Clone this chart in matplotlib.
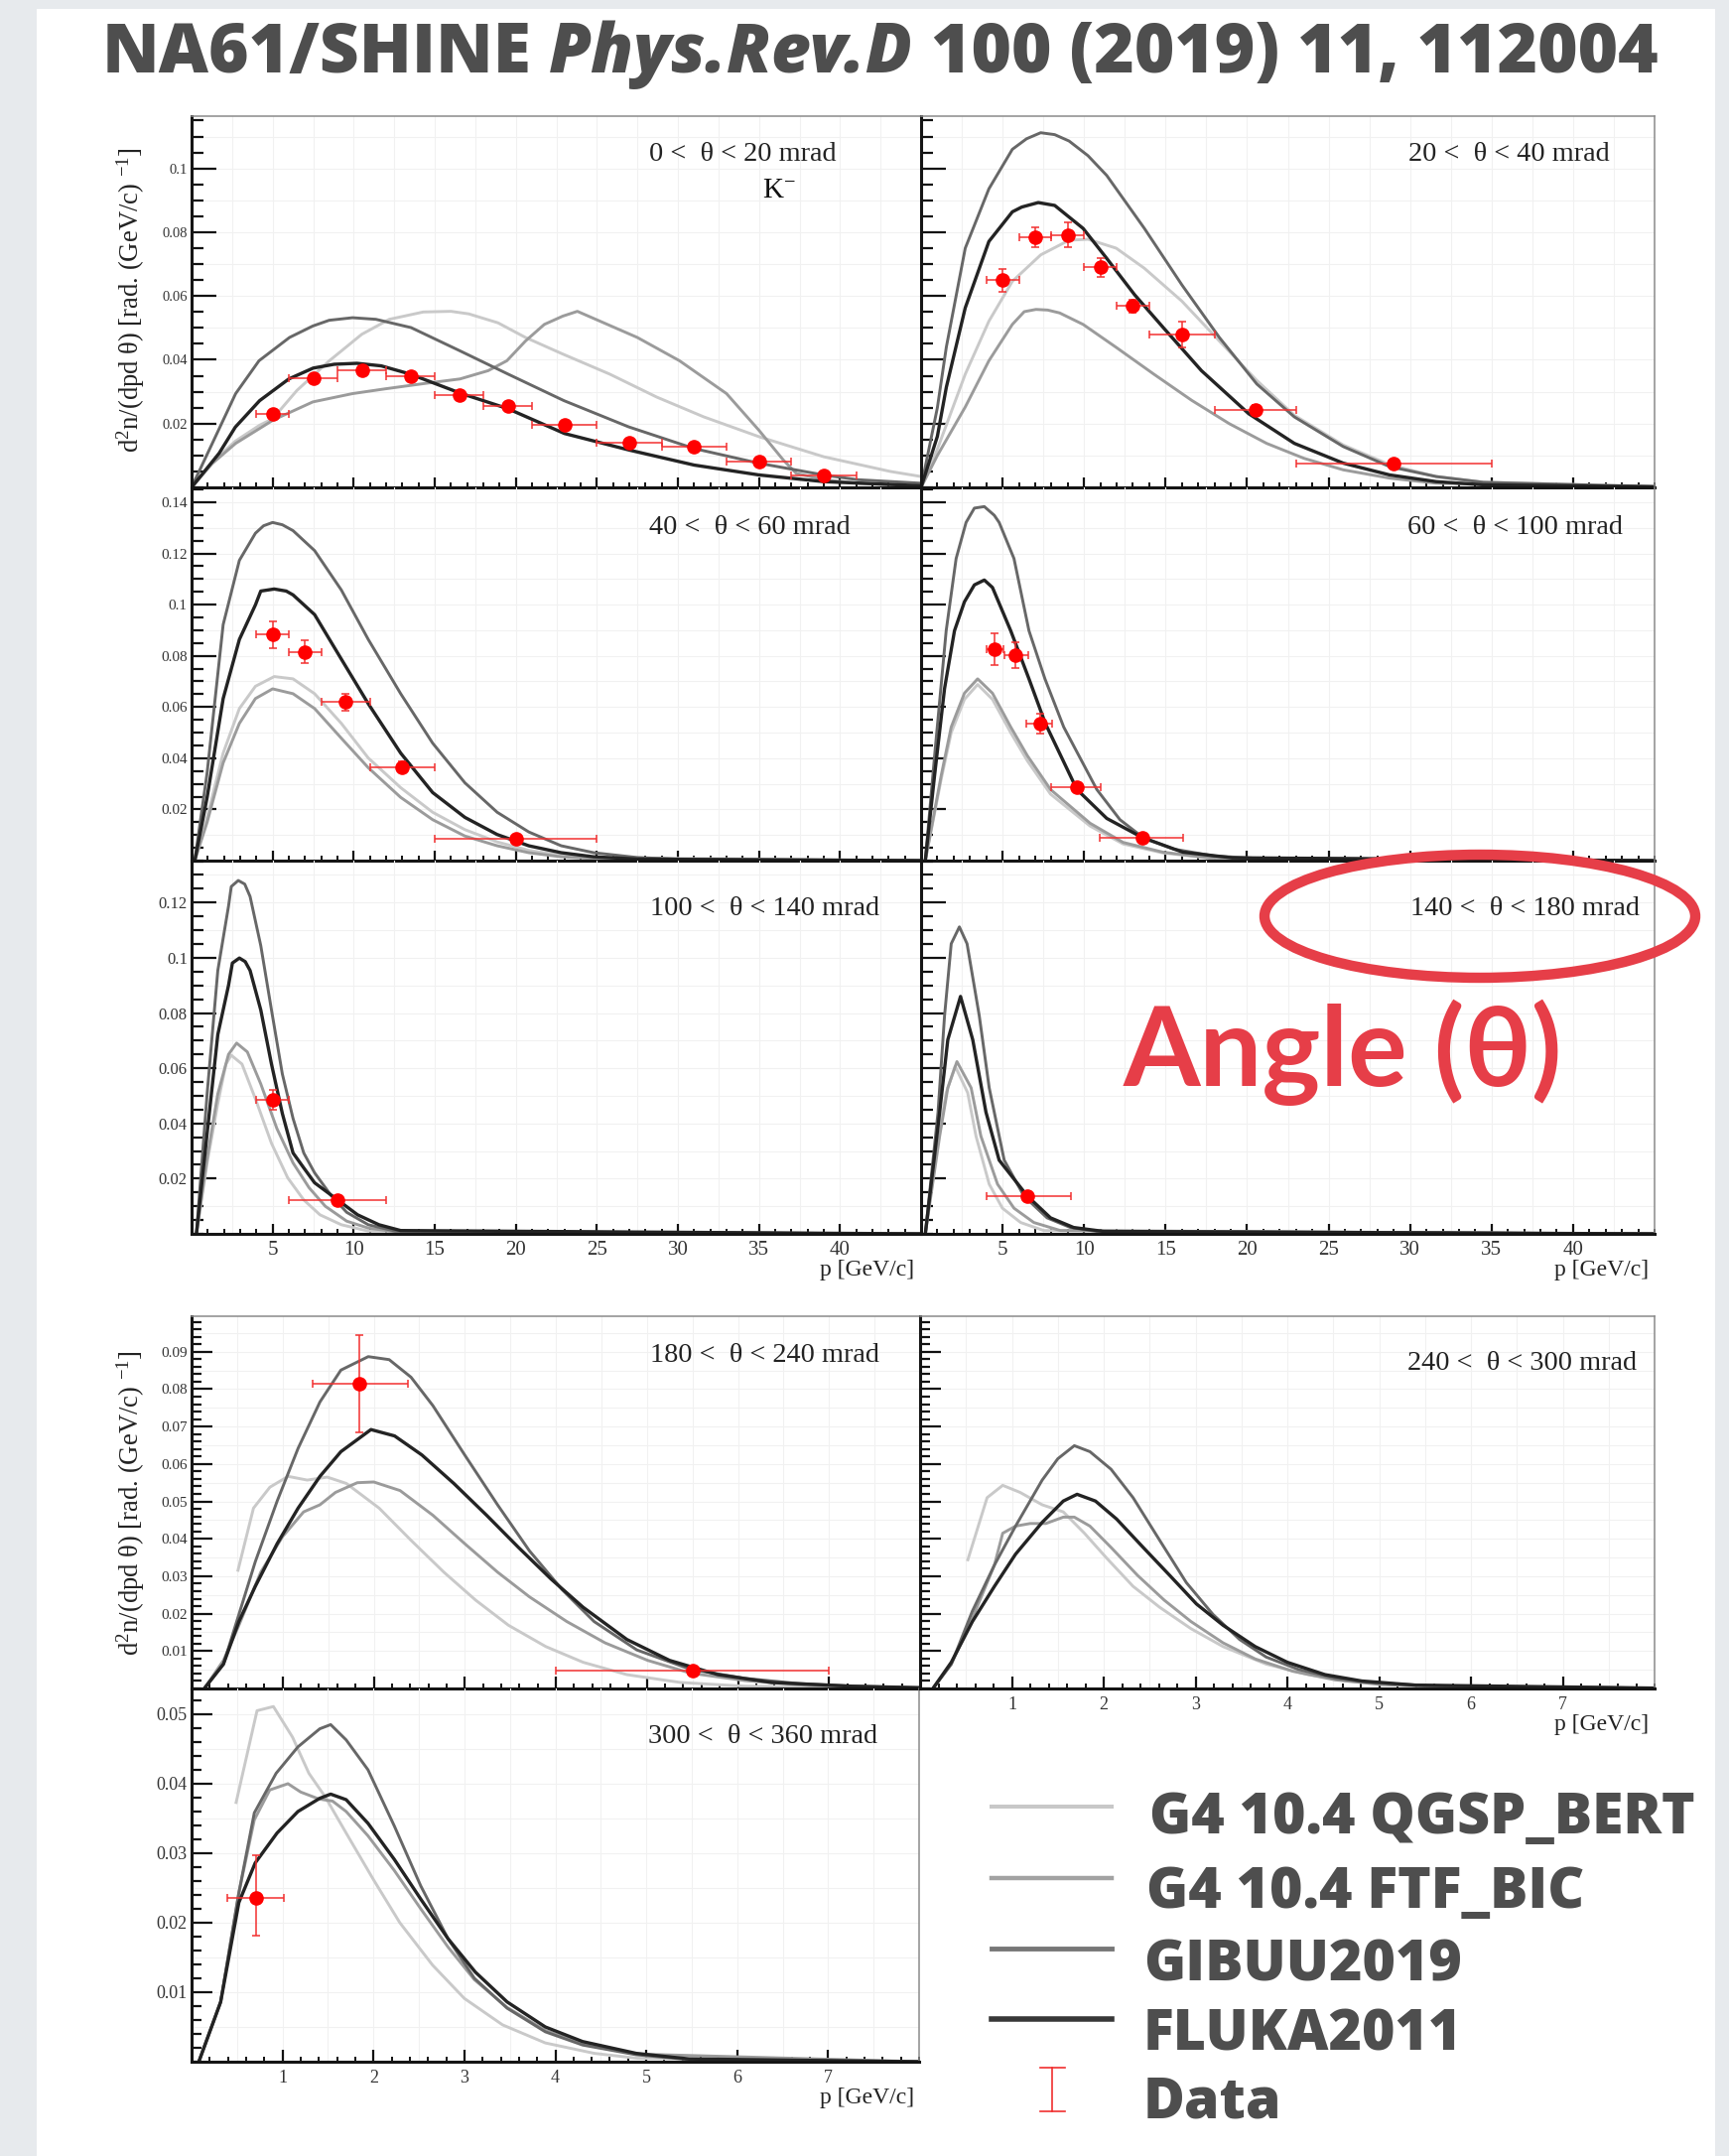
import matplotlib
matplotlib.use("Agg")
import numpy as np
import matplotlib.pyplot as plt
from matplotlib.patches import Ellipse, Rectangle
from matplotlib.lines import Line2D
from matplotlib.ticker import MultipleLocator

# ---------------- values ----------------
# 0 < theta < 20 mrad
p_t0_qgsp = [0, 1.3, 2.7, 4.2, 5.0, 6.5, 8.5, 10.5, 12.2, 14.3, 16.0, 17.1, 18.9, 20.6, 22.9, 25.8, 28.7, 31.6, 35.0, 39.0, 43.1, 45.0]
y_t0_qgsp = [0, 0.008, 0.0145, 0.0195, 0.0215, 0.0304, 0.0397, 0.048, 0.0527, 0.055, 0.0552, 0.0544, 0.0516, 0.047, 0.0418, 0.0355, 0.0283, 0.0221, 0.0159, 0.0096, 0.005, 0.0034]
p_t0_ftf = [0, 1.28, 2.72, 5.03, 7.48, 9.93, 11.95, 14.26, 16.56, 18.3, 19.45, 20.6, 21.76, 22.9, 23.8, 25.2, 27.5, 30.1, 33.0, 35.0, 36.5, 37.3, 39.0, 41.1, 45.0]
y_t0_ftf = [0, 0.0075, 0.0138, 0.0211, 0.0268, 0.0294, 0.0309, 0.0325, 0.034, 0.0366, 0.0397, 0.0459, 0.0511, 0.0537, 0.0552, 0.0521, 0.047, 0.0397, 0.0294, 0.0179, 0.0086, 0.0044, 0.0024, 0.0013, 0.0005]
p_t0_gibuu = [0, 1.28, 2.72, 4.16, 6.04, 7.48, 8.49, 9.93, 11.37, 13.54, 16.56, 19.53, 22.97, 26.95, 30.99, 34.97, 38.98, 41.1, 45.0]
y_t0_gibuu = [0, 0.0138, 0.0294, 0.0397, 0.047, 0.0506, 0.0524, 0.0532, 0.0527, 0.0501, 0.0428, 0.0355, 0.0272, 0.019, 0.0122, 0.0076, 0.0039, 0.0024, 0.0013]
p_t0_fluka = [0, 1.7, 2.7, 4.2, 6.0, 7.5, 8.8, 10.2, 11.7, 13.5, 16.6, 19.5, 23.0, 27.0, 31.0, 35.0, 39.0, 45.0]
y_t0_fluka = [0, 0.0107, 0.0189, 0.0272, 0.034, 0.0374, 0.0386, 0.0389, 0.0381, 0.0355, 0.0295, 0.0247, 0.0169, 0.0117, 0.007, 0.0039, 0.0018, 0.0005]
p_t0_data = [5.0, 7.5, 10.5, 13.5, 16.5, 19.5, 23.0, 27.0, 31.0, 35.0, 39.0]
lo_t0_data = [4, 6, 9, 12, 15, 18, 21, 25, 29, 33, 37]
hi_t0_data = [6, 9, 12, 15, 18, 21, 25, 29, 33, 37, 41]
y_t0_data = [0.0229, 0.0343, 0.0368, 0.0348, 0.0291, 0.0255, 0.0195, 0.0141, 0.0128, 0.0081, 0.0036]
e_t0_data = [0.0012, 0.0013, 0.0013, 0.0012, 0.0011, 0.001, 0.0009, 0.0009, 0.0008, 0.0007, 0.0006]

# 20 < theta < 40 mrad
p_t20_qgsp = [0, 1.0, 2.71, 4.16, 5.6, 7.34, 9.08, 10.24, 11.97, 13.7, 16.0, 18.3, 20.6, 22.9, 25.9, 28.75, 31.6, 34.5, 45.0]
y_t20_qgsp = [0, 0.012, 0.0355, 0.0521, 0.0646, 0.0729, 0.0775, 0.0778, 0.075, 0.0687, 0.0584, 0.0459, 0.0335, 0.0226, 0.0133, 0.0071, 0.0034, 0.0016, 0.0003]
p_t20_ftf = [0, 1.0, 2.71, 4.16, 5.6, 6.33, 7.05, 7.77, 8.5, 9.94, 11.97, 14.28, 16.6, 18.9, 21.2, 23.5, 25.9, 28.75, 31.6, 45.0]
y_t20_ftf = [0, 0.010, 0.0252, 0.0397, 0.0511, 0.0551, 0.0558, 0.0556, 0.0547, 0.0511, 0.0439, 0.0355, 0.0273, 0.020, 0.0138, 0.0091, 0.0055, 0.0029, 0.0013, 0.0002]
p_t20_gibuu = [0, 1.0, 1.55, 2.71, 4.16, 5.6, 6.47, 7.34, 8.2, 9.08, 10.24, 11.39, 13.7, 16.0, 18.3, 20.6, 22.9, 25.9, 28.75, 31.6, 34.5, 45.0]
y_t20_gibuu = [0, 0.025, 0.044, 0.075, 0.0936, 0.106, 0.1093, 0.1112, 0.1106, 0.1086, 0.104, 0.0978, 0.0812, 0.0635, 0.047, 0.0324, 0.0221, 0.0128, 0.0065, 0.0034, 0.0016, 0.0002]
p_t20_fluka = [0, 1.0, 1.55, 2.71, 4.16, 5.6, 6.18, 7.19, 8.2, 9.94, 11.39, 13.1, 14.86, 17.2, 20.1, 22.9, 25.9, 28.75, 31.6, 34.5, 45.0]
y_t20_fluka = [0, 0.016, 0.0314, 0.0563, 0.0771, 0.0864, 0.0879, 0.0893, 0.0884, 0.0812, 0.0718, 0.0604, 0.0501, 0.0366, 0.0231, 0.0138, 0.0076, 0.0039, 0.0018, 0.0008, 0.0002]
p_t20_data = [5.0, 7.0, 9.0, 11.0, 13.0, 16.0, 20.5, 29.0]
lo_t20_data = [4, 6, 8, 10, 12, 14, 18, 23]
hi_t20_data = [6, 8, 10, 12, 14, 18, 23, 35]
y_t20_data = [0.0649, 0.0784, 0.0791, 0.069, 0.0568, 0.048, 0.0244, 0.0076]
e_t20_data = [0.0036, 0.0031, 0.0039, 0.0029, 0.002, 0.0041, 0.0015, 0.001]

# 40 < theta < 60 mrad
p_t40_qgsp = [0.2, 0.96, 1.95, 2.95, 3.94, 5.1, 6.26, 7.59, 9.24, 10.9, 12.9, 14.87, 16.86, 18.85, 20.8, 22.8, 24.8, 45.0]
y_t40_qgsp = [0, 0.017, 0.042, 0.0594, 0.0681, 0.0719, 0.071, 0.0652, 0.0536, 0.0401, 0.0285, 0.0189, 0.0121, 0.0073, 0.004, 0.0021, 0.0012, 0]
p_t40_ftf = [0.2, 0.96, 1.95, 2.95, 3.94, 5.0, 6.26, 7.59, 9.24, 10.9, 12.9, 14.87, 16.86, 18.85, 20.8, 22.8, 24.8, 45.0]
y_t40_ftf = [0, 0.015, 0.0382, 0.0536, 0.0633, 0.0671, 0.0652, 0.0594, 0.0478, 0.0363, 0.0247, 0.016, 0.0096, 0.0058, 0.0031, 0.0015, 0.0008, 0]
p_t40_gibuu = [0.2, 0.96, 1.95, 2.95, 3.94, 4.44, 5.0, 5.6, 6.26, 7.59, 9.24, 10.9, 12.9, 14.87, 16.86, 18.85, 20.8, 22.8, 24.8, 27.5, 30.8, 45.0]
y_t40_gibuu = [0, 0.0343, 0.0922, 0.1173, 0.1279, 0.1308, 0.1321, 0.1312, 0.1289, 0.1211, 0.1057, 0.0864, 0.0652, 0.0459, 0.0304, 0.0189, 0.0112, 0.0058, 0.0031, 0.0012, 0.0004, 0]
p_t40_fluka = [0.2, 0.96, 1.95, 2.95, 3.94, 4.27, 5.1, 5.84, 6.26, 7.59, 9.24, 10.9, 12.9, 14.87, 16.86, 18.85, 20.8, 22.8, 24.8, 27.5, 45.0]
y_t40_fluka = [0, 0.0247, 0.0633, 0.0864, 0.0999, 0.1053, 0.1061, 0.1053, 0.1038, 0.0961, 0.0787, 0.0613, 0.042, 0.0266, 0.0169, 0.0102, 0.0058, 0.0031, 0.0015, 0.0006, 0]
p_t40_data = [5.0, 7.0, 9.5, 13.0, 20.0]
lo_t40_data = [4, 6, 8, 11, 15]
hi_t40_data = [6, 8, 11, 15, 25]
y_t40_data = [0.0883, 0.0816, 0.0619, 0.0366, 0.0087]
e_t40_data = [0.0053, 0.0046, 0.0033, 0.002, 0.0012]

# 60 < theta < 100 mrad
p_t60_qgsp = [0.26, 1.24, 1.85, 2.66, 3.47, 4.38, 5.5, 6.52, 7.94, 10.37, 12.4, 14.84, 17.7, 45.0]
y_t60_qgsp = [0, 0.032, 0.050, 0.063, 0.0688, 0.063, 0.050, 0.039, 0.026, 0.0135, 0.0065, 0.003, 0.001, 0]
p_t60_ftf = [0.26, 1.24, 1.85, 2.66, 3.47, 4.38, 5.5, 6.52, 7.94, 10.37, 12.4, 14.84, 17.7, 45.0]
y_t60_ftf = [0, 0.0334, 0.0522, 0.0654, 0.071, 0.0654, 0.0522, 0.041, 0.0278, 0.0146, 0.0071, 0.0033, 0.0011, 0]
p_t60_gibuu = [0.26, 0.83, 1.54, 2.15, 2.76, 3.27, 3.88, 4.49, 4.79, 5.7, 6.62, 7.6, 8.75, 10.78, 12.2, 13.62, 15.5, 18.0, 22.0, 45.0]
y_t60_gibuu = [0, 0.041, 0.0898, 0.118, 0.1321, 0.1377, 0.1383, 0.1349, 0.1321, 0.118, 0.0898, 0.071, 0.0522, 0.0278, 0.016, 0.009, 0.0045, 0.0018, 0.0004, 0]
p_t60_fluka = [0.26, 0.83, 1.44, 2.05, 2.66, 3.27, 3.88, 4.38, 5.5, 6.62, 7.63, 9.56, 11.39, 13.58, 16.06, 19.1, 45.0]
y_t60_fluka = [0, 0.0334, 0.0672, 0.0898, 0.1011, 0.1077, 0.1096, 0.1067, 0.0898, 0.071, 0.0535, 0.0278, 0.0165, 0.009, 0.0033, 0.0011, 0]
p_t60_data = [4.53, 5.81, 7.33, 9.56, 13.58]
lo_t60_data = [4.02, 5.14, 6.48, 7.98, 10.98]
hi_t60_data = [5.05, 6.58, 8.04, 11.04, 16.06]
y_t60_data = [0.0827, 0.0804, 0.0535, 0.0287, 0.009]
e_t60_data = [0.0062, 0.005, 0.004, 0.0015, 0.0012]

# 100 < theta < 140 mrad
p_t100_qgsp = [0.3, 0.96, 1.62, 2.12, 2.45, 3.11, 3.94, 4.93, 5.93, 6.92, 7.92, 9.24, 10.9, 45.0]
y_t100_qgsp = [0, 0.0257, 0.0472, 0.0615, 0.0647, 0.0615, 0.0489, 0.0328, 0.0203, 0.0123, 0.0069, 0.0033, 0.001, 0]
p_t100_ftf = [0.3, 0.96, 1.62, 2.28, 2.78, 3.44, 4.27, 5.26, 6.26, 7.25, 8.25, 9.57, 10.9, 12.9, 45.0]
y_t100_ftf = [0, 0.0275, 0.0507, 0.065, 0.0691, 0.0659, 0.0543, 0.0382, 0.0257, 0.0167, 0.01, 0.0046, 0.0021, 0.0005, 0]
p_t100_gibuu = [0.3, 0.96, 1.62, 2.28, 2.45, 2.88, 3.28, 3.61, 4.27, 4.93, 5.6, 6.26, 6.92, 7.59, 8.58, 9.57, 10.9, 12.56, 45.0]
y_t100_gibuu = [0, 0.0507, 0.0954, 0.1187, 0.1258, 0.128, 0.1267, 0.1222, 0.1044, 0.0811, 0.0579, 0.0418, 0.0293, 0.0221, 0.0141, 0.0078, 0.0033, 0.001, 0]
p_t100_fluka = [0.3, 0.96, 1.62, 2.28, 2.52, 2.95, 3.31, 3.61, 4.27, 4.93, 5.6, 6.26, 6.92, 7.59, 9.01, 10.24, 11.56, 12.9, 45.0]
y_t100_fluka = [0, 0.0364, 0.0722, 0.09, 0.0981, 0.0999, 0.0986, 0.0954, 0.0811, 0.0615, 0.0436, 0.0293, 0.0239, 0.0185, 0.0123, 0.0069, 0.0033, 0.0012, 0]
p_t100_data = [5.0, 9.0]
lo_t100_data = [4, 6]
hi_t100_data = [6, 12]
y_t100_data = [0.0484, 0.0123]
e_t100_data = [0.0036, 0.0012]

# 140 < theta < 180 mrad
p_t140_qgsp = [0.26, 1.08, 1.54, 2.09, 2.86, 3.37, 4.18, 4.99, 6.11, 7.53, 45.0]
y_t140_qgsp = [0, 0.0354, 0.0511, 0.0607, 0.0511, 0.0354, 0.018, 0.0093, 0.0041, 0.0012, 0]
p_t140_ftf = [0.26, 1.14, 1.64, 2.2, 3.07, 3.67, 4.69, 5.7, 6.92, 8.55, 45.0]
y_t140_ftf = [0, 0.0354, 0.0529, 0.0624, 0.0529, 0.0354, 0.018, 0.0093, 0.0041, 0.0012, 0]
p_t140_gibuu = [0.26, 1.04, 1.44, 1.85, 2.35, 2.82, 3.57, 4.18, 5.1, 6.31, 7.73, 9.16, 10.78, 45.0]
y_t140_gibuu = [0, 0.0441, 0.079, 0.1051, 0.1112, 0.1051, 0.079, 0.0529, 0.0267, 0.0137, 0.0058, 0.0023, 0.0009, 0]
p_t140_fluka = [0.26, 1.14, 1.64, 2.42, 3.17, 3.98, 4.79, 6.52, 7.94, 9.36, 11.19, 45.0]
y_t140_fluka = [0, 0.0441, 0.0703, 0.086, 0.0703, 0.0441, 0.0267, 0.0137, 0.0058, 0.0023, 0.0009, 0]
p_t140_data = [6.52]
lo_t140_data = [4.02]
hi_t140_data = [9.22]
y_t140_data = [0.0137]
e_t140_data = [0.0008]

# 180 < theta < 240 mrad
p_t180_qgsp = [0.51, 0.68, 0.86, 1.06, 1.27, 1.49, 1.7, 2.06, 2.41, 2.77, 3.12, 3.48, 3.89, 4.3, 4.78, 5.37, 6.08, 8.0]
y_t180_qgsp = [0.0316, 0.0482, 0.0538, 0.0567, 0.0557, 0.0565, 0.0548, 0.0482, 0.0396, 0.0311, 0.0236, 0.0169, 0.0112, 0.007, 0.0037, 0.0016, 0.0006, 0.0001]
p_t180_ftf = [0.14, 0.35, 0.52, 0.76, 1.0, 1.23, 1.41, 1.58, 1.82, 2.0, 2.29, 2.65, 3.0, 3.36, 3.71, 4.12, 4.54, 5.01, 5.48, 6.08, 6.78, 7.55]
y_t180_ftf = [0, 0.0075, 0.0169, 0.0311, 0.0406, 0.0472, 0.0491, 0.0524, 0.055, 0.0552, 0.0529, 0.0463, 0.0387, 0.0311, 0.0245, 0.0179, 0.0122, 0.0075, 0.0041, 0.0021, 0.0008, 0.0003]
p_t180_gibuu = [0.14, 0.35, 0.52, 0.70, 0.94, 1.17, 1.41, 1.64, 1.94, 2.17, 2.41, 2.65, 3.0, 3.36, 3.71, 4.07, 4.42, 4.89, 5.48, 6.08, 6.67, 7.26, 8.0]
y_t180_gibuu = [0, 0.0065, 0.0198, 0.0339, 0.0501, 0.0642, 0.0766, 0.0851, 0.0887, 0.0879, 0.0832, 0.0756, 0.0624, 0.0491, 0.0368, 0.0264, 0.0179, 0.0103, 0.0051, 0.0027, 0.0013, 0.0006, 0.0002]
p_t180_fluka = [0.14, 0.35, 0.52, 0.70, 0.94, 1.17, 1.41, 1.64, 1.97, 2.23, 2.53, 2.88, 3.24, 3.59, 3.95, 4.3, 4.78, 5.25, 5.78, 6.37, 7.26, 8.0]
y_t180_fluka = [0, 0.0065, 0.0179, 0.0273, 0.0387, 0.0482, 0.0567, 0.0633, 0.0692, 0.0675, 0.0624, 0.0548, 0.0463, 0.0377, 0.0292, 0.0217, 0.0131, 0.0075, 0.0037, 0.0016, 0.0006, 0.0002]
p_t180_data = [1.84, 5.5]
lo_t180_data = [1.33, 4.0]
hi_t180_data = [2.38, 7.0]
y_t180_data = [0.0815, 0.0049]
e_t180_data = [0.013, 0.0005]

# 240 < theta < 300 mrad
p_t240_qgsp = [0.52, 0.73, 0.9, 1.09, 1.33, 1.56, 1.79, 2.03, 2.32, 2.61, 2.95, 3.3, 3.77, 4.23, 4.75, 5.28, 8.0]
y_t240_qgsp = [0.0344, 0.051, 0.0543, 0.0524, 0.0491, 0.0472, 0.0415, 0.0349, 0.0273, 0.0217, 0.016, 0.0112, 0.0065, 0.0037, 0.0018, 0.0008, 0.0001]
p_t240_ftf = [0.14, 0.34, 0.57, 0.81, 0.9, 1.04, 1.2, 1.37, 1.56, 1.68, 1.85, 2.08, 2.37, 2.66, 2.95, 3.3, 3.65, 4.06, 4.52, 5.04, 5.8, 8.0]
y_t240_ftf = [0, 0.0065, 0.0188, 0.033, 0.0415, 0.0434, 0.0441, 0.0441, 0.0458, 0.0458, 0.0434, 0.0377, 0.0302, 0.0236, 0.0179, 0.0122, 0.0079, 0.0046, 0.0023, 0.001, 0.0004, 0.0001]
p_t240_gibuu = [0.14, 0.34, 0.57, 0.81, 1.04, 1.33, 1.5, 1.68, 1.85, 2.08, 2.32, 2.61, 2.9, 3.19, 3.48, 3.77, 4.12, 4.52, 4.93, 5.51, 6.09, 8.0]
y_t240_gibuu = [0, 0.0065, 0.0207, 0.033, 0.0434, 0.0557, 0.0614, 0.0649, 0.0633, 0.0586, 0.051, 0.0396, 0.0283, 0.0198, 0.0131, 0.0084, 0.0051, 0.0027, 0.0015, 0.0008, 0.0004, 0.0001]
p_t240_fluka = [0.14, 0.34, 0.57, 0.81, 1.04, 1.33, 1.56, 1.71, 1.91, 2.14, 2.43, 2.72, 3.01, 3.3, 3.65, 4.0, 4.41, 4.81, 5.39, 8.0]
y_t240_fluka = [0, 0.007, 0.0179, 0.0273, 0.0359, 0.0444, 0.0501, 0.0519, 0.0501, 0.0453, 0.0377, 0.0302, 0.0226, 0.0169, 0.0112, 0.007, 0.0037, 0.002, 0.0009, 0.0001]

# 300 < theta < 360 mrad
p_t300_qgsp = [0.49, 0.72, 0.9, 1.11, 1.29, 1.47, 1.7, 2.0, 2.29, 2.65, 3.0, 3.42, 3.89, 4.43, 4.9, 8.0]
y_t300_qgsp = [0.0373, 0.0505, 0.0511, 0.0467, 0.0415, 0.0381, 0.0329, 0.0262, 0.02, 0.0139, 0.0091, 0.0053, 0.0027, 0.0012, 0.0005, 0]
p_t300_ftf = [0.08, 0.32, 0.52, 0.69, 0.86, 1.06, 1.2, 1.4, 1.55, 1.7, 1.94, 2.23, 2.52, 2.82, 3.11, 3.47, 3.89, 4.3, 4.89, 8.0]
y_t300_ftf = [0, 0.0086, 0.0243, 0.0348, 0.0391, 0.040, 0.0388, 0.0378, 0.0375, 0.036, 0.0325, 0.0275, 0.022, 0.0165, 0.0118, 0.0078, 0.0045, 0.0026, 0.0011, 0]
p_t300_gibuu = [0.08, 0.32, 0.52, 0.69, 0.93, 1.17, 1.41, 1.53, 1.7, 1.94, 2.23, 2.52, 2.82, 3.11, 3.47, 3.89, 4.3, 4.89, 5.48, 8.0]
y_t300_gibuu = [0, 0.0086, 0.0243, 0.0358, 0.0415, 0.0453, 0.0479, 0.0485, 0.0463, 0.042, 0.0339, 0.0253, 0.0177, 0.012, 0.0077, 0.0043, 0.0024, 0.001, 0.0003, 0]
p_t300_fluka = [0.08, 0.32, 0.52, 0.70, 0.94, 1.17, 1.41, 1.53, 1.7, 1.94, 2.23, 2.52, 2.82, 3.12, 3.47, 3.89, 4.3, 4.89, 5.47, 8.0]
y_t300_fluka = [0, 0.0086, 0.0229, 0.0286, 0.0329, 0.036, 0.0379, 0.0385, 0.0377, 0.0343, 0.0291, 0.0234, 0.0177, 0.0129, 0.0086, 0.005, 0.0029, 0.0012, 0.0004, 0]
p_t300_data = [0.71]
lo_t300_data = [0.39]
hi_t300_data = [1.02]
y_t300_data = [0.0235]
elo_t300_data = [0.0053]
ehi_t300_data = [0.0062]

# text
title_parts = ["NA61/SHINE", "Phys.Rev.D", "100 (2019) 11, 112004"]
legend_labels = ["G4 10.4 QGSP_BERT", "G4 10.4 FTF_BIC", "GIBUU2019", "FLUKA2011", "Data"]
ylab = r'd$^{2}$n/(dpd θ) [rad. (GeV/c) $^{-1}$]'

# ---------------- figure ----------------
plt.rcParams['font.family'] = ['Liberation Serif', 'DejaVu Serif']
plt.rcParams['mathtext.fontset'] = 'custom'
plt.rcParams['mathtext.rm'] = 'Liberation Serif'
plt.rcParams['mathtext.it'] = 'Liberation Serif:italic'
plt.rcParams['mathtext.bf'] = 'Liberation Serif:bold'

W, H = 1742, 2172
fig = plt.figure(figsize=(W / 100, H / 100), dpi=100)
renderer = fig.canvas.get_renderer()
SANS = ['Open Sans', 'Lato', 'DejaVu Sans']
GREY_TXT = '#4e4e4e'


def box(x0, y0, x1, y1):
    return [x0 / W, 1 - y1 / H, (x1 - x0) / W, (y1 - y0) / H]


def ftext(x, y, s, **kw):
    return fig.text(x / W, 1 - y / H, s, **kw)


# slide background strips
for r in [(0, 0, 37, H), (0, 0, W, 9), (1728, 0, W, H)]:
    fig.add_artist(Rectangle((r[0] / W, 1 - r[3] / H), (r[2] - r[0]) / W, (r[3] - r[1]) / H,
                             transform=fig.transFigure, color='#e7eaed', zorder=-10, lw=0))

model_style = [('#c9c9c9', 2.1), ('#9b9b9b', 2.1), ('#676767', 2.1), ('#232323', 2.4)]

top = dict(xmax=45, xmaj=np.arange(5, 45, 5), xminor=1, ymaj_len=18, ymin_len=8.5,
           xmaj_len=7, xmin_len=3.5, gx=2.5, gy=0.01, xlabsize=15, xpad=5)
bot = dict(xmax=8, xmaj=np.arange(1, 8, 1), xminor=0.2, ymaj_len=15, ymin_len=7,
           xmaj_len=8.6, xmin_len=3.6, gx=0.5, gy=0.005, xlabsize=13, xpad=6)

panels = [
    dict(b=(193, 117, 928, 491), g=top, ymax=0.1164, yt=[0.02, 0.04, 0.06, 0.08, 0.1], ym=0.005, ys=10.5,
         c=[(p_t0_qgsp, y_t0_qgsp), (p_t0_ftf, y_t0_ftf), (p_t0_gibuu, y_t0_gibuu), (p_t0_fluka, y_t0_fluka)],
         d=(p_t0_data, lo_t0_data, hi_t0_data, y_t0_data, e_t0_data), ylab=True, xlab=False, topsp=True, rsp=False),
    dict(b=(193, 491, 928, 867), g=top, ymax=0.1458, yt=[0.02, 0.04, 0.06, 0.08, 0.1, 0.12, 0.14], ym=0.005, ys=11,
         c=[(p_t40_qgsp, y_t40_qgsp), (p_t40_ftf, y_t40_ftf), (p_t40_gibuu, y_t40_gibuu), (p_t40_fluka, y_t40_fluka)],
         d=(p_t40_data, lo_t40_data, hi_t40_data, y_t40_data, e_t40_data), ylab=True, xlab=False, topsp=False, rsp=False),
    dict(b=(193, 867, 928, 1243), g=top, ymax=0.1352, yt=[0.02, 0.04, 0.06, 0.08, 0.1, 0.12], ym=0.005, ys=12,
         c=[(p_t100_qgsp, y_t100_qgsp), (p_t100_ftf, y_t100_ftf), (p_t100_gibuu, y_t100_gibuu), (p_t100_fluka, y_t100_fluka)],
         d=(p_t100_data, lo_t100_data, hi_t100_data, y_t100_data, e_t100_data), ylab=True, xlab=True, topsp=False, rsp=False),
    dict(b=(928, 117, 1667, 491), g=top, ymax=0.1164, yt=[0.02, 0.04, 0.06, 0.08, 0.1], ym=0.005, ys=10.5,
         c=[(p_t20_qgsp, y_t20_qgsp), (p_t20_ftf, y_t20_ftf), (p_t20_gibuu, y_t20_gibuu), (p_t20_fluka, y_t20_fluka)],
         d=(p_t20_data, lo_t20_data, hi_t20_data, y_t20_data, e_t20_data), ylab=False, xlab=False, topsp=True, rsp=True),
    dict(b=(928, 491, 1667, 867), g=top, ymax=0.1458, yt=[0.02, 0.04, 0.06, 0.08, 0.1, 0.12, 0.14], ym=0.005, ys=11,
         c=[(p_t60_qgsp, y_t60_qgsp), (p_t60_ftf, y_t60_ftf), (p_t60_gibuu, y_t60_gibuu), (p_t60_fluka, y_t60_fluka)],
         d=(p_t60_data, lo_t60_data, hi_t60_data, y_t60_data, e_t60_data), ylab=False, xlab=False, topsp=False, rsp=True),
    dict(b=(928, 867, 1667, 1243), g=top, ymax=0.1352, yt=[0.02, 0.04, 0.06, 0.08, 0.1, 0.12], ym=0.005, ys=12,
         c=[(p_t140_qgsp, y_t140_qgsp), (p_t140_ftf, y_t140_ftf), (p_t140_gibuu, y_t140_gibuu), (p_t140_fluka, y_t140_fluka)],
         d=(p_t140_data, lo_t140_data, hi_t140_data, y_t140_data, e_t140_data), ylab=False, xlab=True, topsp=False, rsp=True),
    dict(b=(193, 1326, 927, 1701), g=bot, ymax=0.0995, yt=[0.01, 0.02, 0.03, 0.04, 0.05, 0.06, 0.07, 0.08, 0.09], ym=0.002, ys=11,
         c=[(p_t180_qgsp, y_t180_qgsp), (p_t180_ftf, y_t180_ftf), (p_t180_gibuu, y_t180_gibuu), (p_t180_fluka, y_t180_fluka)],
         d=(p_t180_data, lo_t180_data, hi_t180_data, y_t180_data, e_t180_data), ylab=True, xlab=False, topsp=True, rsp=False),
    dict(b=(193, 1701, 926, 2077), g=bot, ymax=0.0537, yt=[0.01, 0.02, 0.03, 0.04, 0.05], ym=0.002, ys=13,
         c=[(p_t300_qgsp, y_t300_qgsp), (p_t300_ftf, y_t300_ftf), (p_t300_gibuu, y_t300_gibuu), (p_t300_fluka, y_t300_fluka)],
         d=(p_t300_data, lo_t300_data, hi_t300_data, y_t300_data, [elo_t300_data, ehi_t300_data]),
         ylab=True, xlab=True, topsp=False, rsp=True),
    dict(b=(927, 1326, 1667, 1701), g=bot, ymax=0.0995, yt=[0.01, 0.02, 0.03, 0.04, 0.05, 0.06, 0.07, 0.08, 0.09], ym=0.002, ys=11,
         c=[(p_t240_qgsp, y_t240_qgsp), (p_t240_ftf, y_t240_ftf), (p_t240_gibuu, y_t240_gibuu), (p_t240_fluka, y_t240_fluka)],
         d=None, ylab=False, xlab=True, topsp=True, rsp=True),
]

for P in panels:
    g = P['g']
    ax = fig.add_axes(box(*P['b']))
    ax.set_facecolor('none')
    ax.set_xlim(0, g['xmax'])
    ax.set_ylim(0, P['ymax'])
    # faint background grid
    for gx in np.arange(g['gx'], g['xmax'], g['gx']):
        ax.axvline(gx, color='#f1f1f1', lw=0.8, zorder=0)
    for gy in np.arange(g['gy'], P['ymax'], g['gy']):
        ax.axhline(gy, color='#f1f1f1', lw=0.8, zorder=0)
    for (px, py), (col, lw) in zip(P['c'], model_style):
        ax.plot(px, py, color=col, lw=lw, solid_joinstyle='round', zorder=2)
    if P['d'] is not None:
        dp, dlo, dhi, dy, de = P['d']
        dp = np.array(dp)
        xerr = [dp - np.array(dlo), np.array(dhi) - dp]
        ax.errorbar(dp, dy, xerr=xerr, yerr=de, fmt='o', color='#ff0000', ms=9.5, mec='#ff0000',
                    ecolor='#f23030', elinewidth=1.1, capsize=3, capthick=1.1, zorder=5)
    ax.set_yticks(P['yt'])
    ax.set_yticklabels([('%g' % v) for v in P['yt']] if P['ylab'] else [])
    ax.yaxis.set_minor_locator(MultipleLocator(P['ym']))
    ax.set_xticks(g['xmaj'])
    ax.set_xticklabels([('%g' % v) for v in g['xmaj']] if P['xlab'] else [])
    ax.xaxis.set_minor_locator(MultipleLocator(g['xminor']))
    ax.tick_params(axis='y', which='major', direction='in', length=g['ymaj_len'], width=1.6,
                   labelsize=P['ys'], pad=3, colors='#111111', labelcolor='#333333')
    ax.tick_params(axis='y', which='minor', direction='in', length=g['ymin_len'], width=1.6, colors='#111111')
    ax.tick_params(axis='x', which='major', direction='in', length=g['xmaj_len'], width=1.6,
                   labelsize=g['xlabsize'], pad=g['xpad'], colors='#111111', labelcolor='#333333')
    ax.tick_params(axis='x', which='minor', direction='in', length=g['xmin_len'], width=1.4, colors='#111111')
    for s in ['left', 'bottom']:
        ax.spines[s].set_linewidth(2.2)
        ax.spines[s].set_color('#151515')
    for s, show in [('top', P['topsp']), ('right', P['rsp'])]:
        ax.spines[s].set_visible(show)
        ax.spines[s].set_linewidth(1.1)
        ax.spines[s].set_color('#8a8a8a')

# panel labels
range_labels = [("0", "20", 654, 155), ("20", "40", 1419, 155), ("40", "60", 654, 531),
                ("60", "100", 1418, 531), ("100", "140", 655, 916), ("140", "180", 1421, 916),
                ("180", "240", 655, 1366), ("240", "300", 1418, 1373), ("300", "360", 653, 1750)]
for lo, hi, x, y in range_labels:
    ftext(x, y, "%s <  θ < %s mrad" % (lo, hi), fontsize=20.3, color='#222222', va='center', ha='left')
ftext(785, 192, r'K$^{-}$', fontsize=21, color='#111111', va='center', ha='center')

# axis titles (fitted to the length they take in the picture)
for y in [148, 1360]:
    yl = ftext(132, y, ylab, fontsize=16.5, rotation=90, ha='center', va='top', color='#222222')
    yl.set_fontsize(16.5 * 308 / yl.get_window_extent(renderer).height)
for x, y in [(921, 1280), (1661, 1280), (921, 2113), (1661, 1738)]:
    ftext(x, y, 'p [GeV/c]', fontsize=17, ha='right', va='center', color='#222222')

# title with italic middle part, fitted to the slide width
title_styles = ['normal', 'italic', 'normal']
tt = [ftext(103, 73, s, fontsize=44, fontweight=800, fontstyle=st, family=SANS,
            color=GREY_TXT, va='baseline') for s, st in zip(title_parts, title_styles)]


def layout_title(size):
    x = 103
    gap = 0.25 * size * 100 / 72
    for t in tt:
        t.set_fontsize(size)
        t.set_x(x / W)
        x += t.get_window_extent(renderer).width + gap
    return x - gap - 103


wt = layout_title(44)
layout_title(44 * 1569 / wt)

# legend
leg_lines = [(1820, '#c8c8c8', 2.9), (1892, '#a2a2a2', 3.2), (1963, '#777777', 3.5), (2034, '#383838', 4.0)]
for y, col, lw in leg_lines:
    fig.add_artist(Line2D([999 / W, 1120 / W], [1 - y / H] * 2, transform=fig.transFigure, color=col, lw=lw))
fig.add_artist(Line2D([1060 / W] * 2, [1 - 2083 / H, 1 - 2127 / H], transform=fig.transFigure, color='#f03030', lw=1.2))
for yy in [2083, 2127]:
    fig.add_artist(Line2D([1048 / W, 1073 / W], [1 - yy / H] * 2, transform=fig.transFigure, color='#f03030', lw=1.2))

leg_pos = [(1158, 1847), (1155, 1922), (1152, 1995), (1152, 2065), (1152, 2133)]
lt = [ftext(x, y, s, fontsize=37, fontweight=800, family=SANS, color=GREY_TXT, va='baseline')
      for s, (x, y) in zip(legend_labels, leg_pos)]
k = 550 / lt[0].get_window_extent(renderer).width
for t in lt:
    t.set_fontsize(37 * k)

# annotation
fig.add_artist(Ellipse((1491 / W, 1 - 923 / H), 434 / W, 124 / H, transform=fig.transFigure,
                       fill=False, edgecolor='#e63e48', lw=7.5))
at = ftext(1132, 1094, 'Angle (θ)', fontsize=64, fontweight='bold', family=['Lato', 'DejaVu Sans'],
           color='#e63e48', va='baseline')
at.set_fontsize(64 * 442 / at.get_window_extent(renderer).width)

fig.savefig('out.png', dpi=100, facecolor='white')
